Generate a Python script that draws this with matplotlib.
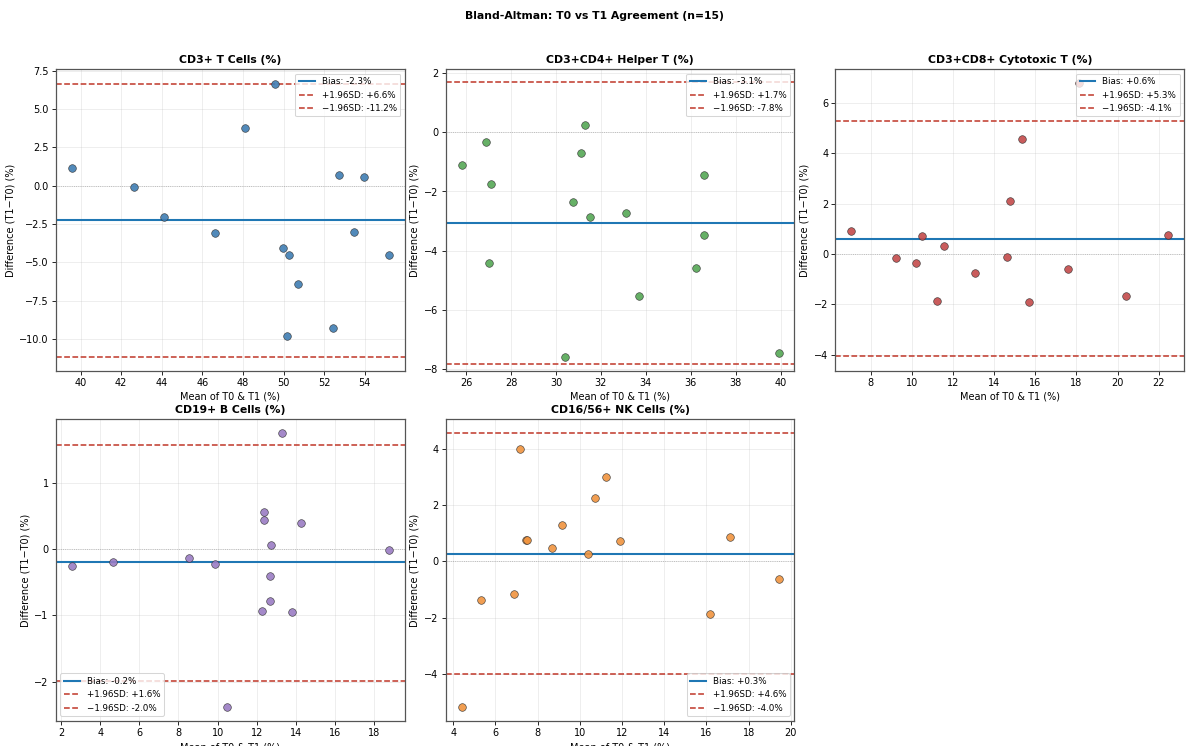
import matplotlib
matplotlib.use("Agg")
import matplotlib.pyplot as plt

# panel titles
titles = ["CD3+ T Cells (%)", "CD3+CD4+ Helper T (%)", "CD3+CD8+ Cytotoxic T (%)",
          "CD19+ B Cells (%)", "CD16/56+ NK Cells (%)"]

# mean of T0 & T1 / difference T1-T0
cd3_mean = [39.56, 42.63, 44.13, 46.63, 48.12, 49.56, 49.95, 50.28, 50.70, 50.19,
            52.46, 52.71, 53.95, 53.49, 55.19]
cd3_diff = [1.15, -0.11, -2.04, -3.08, 3.73, 6.64, -4.08, -4.54, -6.41, -9.79,
            -9.32, 0.67, 0.56, -3.06, -4.54]

cd4_mean = [25.79, 26.88, 27.09, 27.00, 30.39, 30.75, 31.11, 31.28, 31.50, 33.10,
            33.71, 36.24, 36.58, 36.61, 39.91]
cd4_diff = [-1.12, -0.34, -1.75, -4.42, -7.57, -2.36, -0.70, 0.23, -2.86, -2.72,
            -5.54, -4.59, -1.46, -3.48, -7.45]

cd8_mean = [7.05, 9.23, 10.20, 10.49, 11.20, 11.57, 13.07, 14.64, 14.78, 15.35,
            15.67, 17.58, 18.12, 20.43, 22.47]
cd8_diff = [0.93, -0.16, -0.36, 0.70, -1.87, 0.31, -0.74, -0.11, 2.12, 4.56,
            -1.91, -0.58, 6.79, -1.67, 0.77]

cd19_mean = [2.55, 4.66, 8.55, 9.89, 10.48, 12.29, 12.36, 12.38, 12.71, 12.65,
             12.68, 13.27, 13.80, 14.25, 18.74]
cd19_diff = [-0.25, -0.20, -0.13, -0.22, -2.38, -0.93, 0.44, 0.56, 0.07, -0.40,
             -0.78, 1.75, -0.95, 0.40, -0.01]

nk_mean = [4.39, 5.32, 6.89, 7.14, 7.44, 7.50, 8.68, 9.13, 10.37, 10.74,
           11.22, 11.91, 16.15, 17.12, 19.42]
nk_diff = [-5.15, -1.37, -1.15, 3.99, 0.75, 0.75, 0.46, 1.29, 0.28, 2.24,
           3.01, 0.73, -1.86, 0.86, -0.64]

# bias and limits of agreement
bias = [-2.26, -3.07, 0.60, -0.20, 0.28]
upper = [6.60, 1.69, 5.28, 1.58, 4.56]
lower = [-11.16, -7.83, -4.07, -1.99, -4.00]

means = [cd3_mean, cd4_mean, cd8_mean, cd19_mean, nk_mean]
diffs = [cd3_diff, cd4_diff, cd8_diff, cd19_diff, nk_diff]

colors = ["#3f7db3", "#55a855", "#c44a4a", "#9a7cc4", "#f0943f"]
ylims = [(-12.07, 7.58), (-8.04, 2.12), (-4.63, 7.33), (-2.59, 1.96), (-5.65, 5.04)]
legend_locs = ["upper right", "upper right", "upper right", "lower left", "lower right"]

fig, axes = plt.subplots(2, 3, figsize=(16, 10.04), dpi=74.31)
axes = axes.flatten()

for i in range(5):
    ax = axes[i]
    ax.scatter(means[i], diffs[i], s=55, color=colors[i], alpha=0.9,
               edgecolor="#333333", linewidth=0.6, zorder=3)
    ax.axhline(bias[i], color="#1f77b4", linewidth=2, label=f"Bias: {bias[i]:+.1f}%")
    ax.axhline(upper[i], color="#c0392b", linestyle="--", linewidth=1.5,
               label=f"+1.96SD: {upper[i]:+.1f}%")
    ax.axhline(lower[i], color="#c0392b", linestyle="--", linewidth=1.5,
               label=f"\u22121.96SD: {lower[i]:.1f}%")
    ax.axhline(0, color="gray", linestyle=":", linewidth=0.8, alpha=0.6)
    ax.set_ylim(*ylims[i])
    ax.set_title(titles[i], fontsize=10.5, fontweight="bold")
    ax.set_xlabel("Mean of T0 & T1 (%)", fontsize=9.5)
    ax.set_ylabel("Difference (T1\u2212T0) (%)", fontsize=9.5)
    ax.tick_params(labelsize=9.5)
    ax.grid(True, alpha=0.25)
    ax.legend(loc=legend_locs[i], fontsize=8.5, handlelength=1.8)
    for s in ax.spines.values():
        s.set_color("#555555")
        s.set_linewidth(1.2)

axes[5].axis("off")

fig.suptitle("Bland-Altman: T0 vs T1 Agreement (n=15)", fontsize=10.5, fontweight="bold", y=0.985)
plt.subplots_adjust(left=0.047, right=0.996, top=0.907, bottom=0.034, wspace=0.1175, hspace=0.162)
plt.savefig("out.png", dpi=74.31)
